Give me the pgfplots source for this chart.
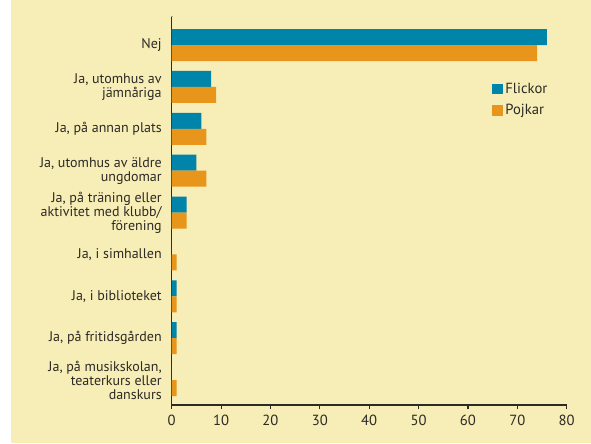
\documentclass[border=0pt]{standalone}
\usepackage{fontspec}
\setmainfont{PT Sans}
\usepackage{pgfplots}
\pgfplotsset{compat=1.18}
\definecolor{cream}{RGB}{247,237,182}
\definecolor{flickor}{RGB}{0,132,170}
\definecolor{pojkar}{RGB}{232,149,27}
\definecolor{ink}{RGB}{45,42,38}

\begin{document}
\begin{tikzpicture}[x=1pt,y=1pt]
\useasboundingbox (0,0) rectangle (443.25,332.25);
\fill[white] (0,0) rectangle (443.25,332.25);
\fill[cream] (8.25,0) rectangle (443.25,332.25);
\begin{axis}[
    at={(128.8pt,28.5pt)}, anchor=south west,
    scale only axis,
    width=296.25pt, height=291pt,
    xmin=0, xmax=80,
    ymin=-0.597, ymax=8.669,
    xtick={0,10,...,80},
    ytick={0,...,8},
    yticklabels={
        {Ja, på musikskolan,\\teaterkurs eller\\danskurs},
        {Ja, på fritidsgården},
        {Ja, i biblioteket},
        {Ja, i simhallen},
        {Ja, på träning eller\\aktivitet med klubb/\\förening},
        {Ja, utomhus av äldre\\ungdomar},
        {Ja, på annan plats},
        {Ja, utomhus av\\jämnåriga},
        {Nej}},
    axis x line*=bottom,
    axis y line*=left,
    axis line style={ink, line width=1pt},
    tick align=outside,
    xtick style={ink, line width=0.8pt},
    x tick label style={text=ink, font=\fontsize{11}{12}\selectfont, yshift=-1pt},
    /pgf/number format/assume math mode=true,
    ytick style={draw=none},
    major tick length=3pt,
    yticklabel style={align=right, text=ink, font=\fontsize{10.5}{10.5}\selectfont, xshift=-1pt},
    legend style={at={(0.80,0.845)}, anchor=north west, draw=none, fill=none,
        font=\fontsize{11}{12}\selectfont, text=ink, row sep=3pt,
        /tikz/every even column/.append style={column sep=2pt}},
    legend cell align=left,
    legend image code/.code={\fill[#1] (0pt,-4pt) rectangle (8pt,4pt);},
]
\addplot[xbar, bar width=12pt, bar shift=6pt, fill=flickor, draw=none] coordinates {
    (0,0) (1,1) (1,2) (0,3) (3,4) (5,5) (6,6) (8,7) (76,8)
};
\addplot[xbar, bar width=12pt, bar shift=-6pt, fill=pojkar, draw=none] coordinates {
    (1,0) (1,1) (1,2) (1,3) (3,4) (7,5) (7,6) (9,7) (74,8)
};
\legend{Flickor, Pojkar}
\draw[ink, line width=1pt] (rel axis cs:0,1) -- ++(-3pt,0);
\end{axis}
\end{tikzpicture}
\end{document}
